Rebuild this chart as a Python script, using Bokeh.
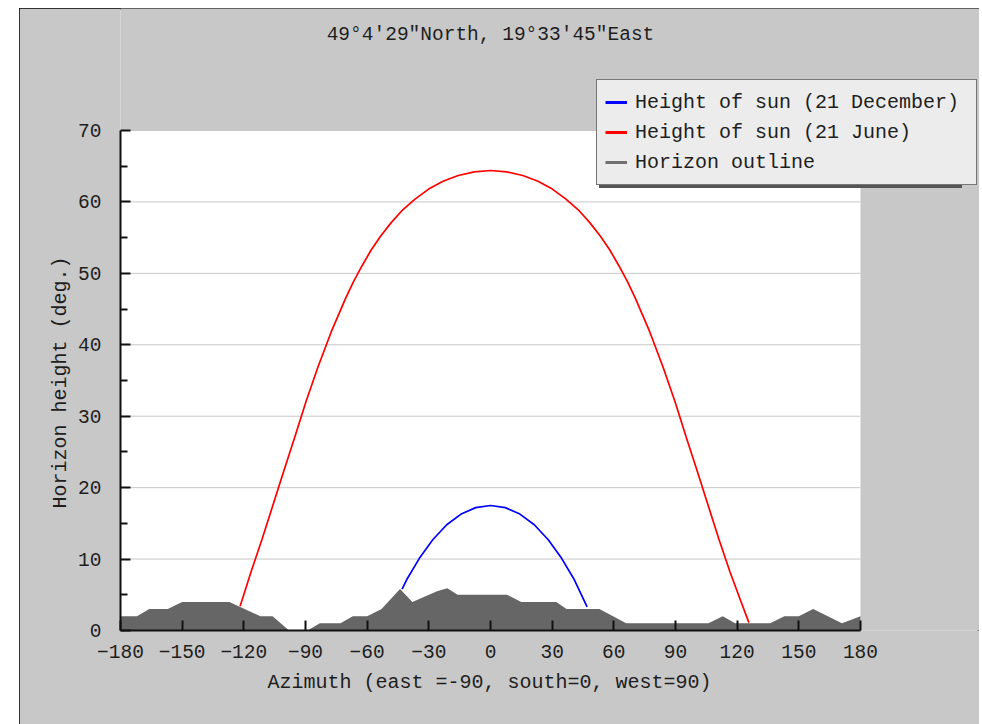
from bokeh.plotting import figure
from bokeh.models import Legend, LegendItem, Label, FixedTicker, Range1d, Spacer, Title
from bokeh.layouts import row, column
from bokeh.embed import file_html
from bokeh.resources import INLINE

# ---------------- data ----------------
title_text = '49°4′29"North, 19°33′45"East'
x_label = "Azimuth (east =-90, south=0, west=90)"
y_label = "Horizon height (deg.)"

legend_labels = ["Height of sun (21 December)", "Height of sun (21 June)", "Horizon outline"]

horizon_az = [-180, -172, -166, -157, -150, -127, -112, -106, -98, -89, -83, -73, -67, -60,
              -53, -44, -38, -26, -21, -16, 8, 15, 32, 37, 53, 66, 106, 113, 119, 136, 143,
              150, 157, 171, 180]
horizon_h = [2, 2, 3, 3, 4, 4, 2, 2, 0, 0, 1, 1, 2, 2,
             3, 5.8, 4, 5.5, 5.9, 5, 5, 4, 4, 3, 3, 1, 1, 2, 1, 1, 2,
             2, 3, 1, 2]

dec_az = [-43, -40.8, -34.6, -28.1, -21.3, -14.3, -7.2, 0, 7.2, 14.3, 21.3, 28.1, 34.6, 40.8, 47]
dec_h = [5.8, 7.1, 10.1, 12.7, 14.8, 16.3, 17.2, 17.5, 17.2, 16.3, 14.8, 12.7, 10.1, 7.1, 3.3]

jun_az = [-121.8, -116.4, -111.1, -105.9, -100.6, -95.2, -89.7, -83.8, -77.5, -70.5, -66.7,
          -62.6, -58.2, -53.5, -48.3, -42.7, -36.7, -30.1, -23.1, -15.7, -7.9, 0,
          7.9, 15.7, 23.1, 30.1, 36.7, 42.7, 48.3, 53.5, 58.2, 62.6, 66.7, 70.5, 77.5,
          83.8, 89.7, 95.2, 100.6, 105.9, 111.1, 116.4, 121.8, 125.7]
jun_h = [3.4, 8.3, 12.8, 17.5, 22.3, 27.1, 32.1, 37.0, 41.8, 46.5, 48.8,
         51.0, 53.2, 55.2, 57.1, 58.9, 60.4, 61.8, 62.9, 63.7, 64.2, 64.4,
         64.2, 63.7, 62.9, 61.8, 60.4, 58.9, 57.1, 55.2, 53.2, 51.0, 48.8, 46.5, 41.8,
         37.0, 32.1, 27.1, 22.3, 17.5, 12.8, 8.3, 4.1, 1.1]

x_ticks = [-180, -150, -120, -90, -60, -30, 0, 30, 60, 90, 120, 150, 180]
y_ticks = [0, 10, 20, 30, 40, 50, 60, 70]
y_minor = [5, 15, 25, 35, 45, 55, 65]

# ---------------- styling ----------------
FONT = "Liberation Mono"
TXT = "#1e1e1e"
PANEL = "#c8c8c8"
NAN = float("nan")

# The frame covers the grey panel to the right of / above the white plot area so the
# legend and the title (drawn inside the frame) are not clipped.
p = figure(width=960, height=716, x_range=Range1d(-180, 237.9), y_range=Range1d(0, 87.08),
           output_backend="svg", toolbar_location=None, title=None,
           min_border_left=101, min_border_right=0, min_border_top=0, min_border_bottom=94)
p.background_fill_color = PANEL
p.border_fill_color = PANEL
p.outline_line_color = None
p.styles = {"outline": "2px solid black", "outline-offset": "-2px"}

# white plotting area
p.quad(left=x_ticks[0], right=x_ticks[-1], bottom=y_ticks[0], top=y_ticks[-1],
       fill_color="white", line_color=None)
# horizontal grid lines
p.segment(x0=[x_ticks[0]] * len(y_ticks), y0=y_ticks, x1=[x_ticks[-1]] * len(y_ticks), y1=y_ticks,
          line_color="#c8c8c8", line_width=1)

# axes
p.xaxis.ticker = FixedTicker(ticks=x_ticks)
p.yaxis.ticker = FixedTicker(ticks=y_ticks, minor_ticks=y_minor)
p.xaxis.bounds = (x_ticks[0], x_ticks[-1])
p.yaxis.bounds = (y_ticks[0], y_ticks[-1])
for ax in (p.xaxis, p.yaxis):
    ax.axis_line_color = "#111111"
    ax.axis_line_width = 2
    ax.major_tick_line_color = "#111111"
    ax.major_tick_line_width = 2
    ax.major_tick_in = 10
    ax.major_tick_out = 0
    ax.minor_tick_out = 0
    ax.major_label_text_font = FONT
    ax.major_label_text_font_size = "19.5px"
    ax.major_label_text_color = TXT
p.xaxis.minor_tick_in = 0
p.yaxis.minor_tick_in = 7
p.yaxis.minor_tick_line_color = "#111111"
p.yaxis.minor_tick_line_width = 2
p.xaxis.major_label_standoff = 14
p.yaxis.major_label_standoff = 19

p.xgrid.visible = False
p.ygrid.visible = False

# axis titles, aligned to the white plot area rather than the whole frame
p.add_layout(Title(text=x_label, align="left", offset=147, standoff=16, text_font=FONT,
                   text_font_size="20px", text_font_style="normal", text_color=TXT), "below")
p.add_layout(Title(text=y_label, align="left", offset=122, standoff=8, text_font=FONT,
                   text_font_size="20px", text_font_style="normal", text_color=TXT), "left")

# data renderers
p.line(jun_az, jun_h, line_color="#ff0000", line_width=1.7)
p.line(dec_az, dec_h, line_color="#0000ff", line_width=1.7)
p.varea(x=horizon_az, y1=[0] * len(horizon_az), y2=horizon_h, fill_color="#666666")

# legend-only renderers (thicker line keys, nothing drawn in the plot)
leg_dec = p.line([NAN], [NAN], line_color="#0000ff", line_width=3)
leg_jun = p.line([NAN], [NAN], line_color="#ff0000", line_width=3)
leg_hor = p.line([NAN], [NAN], line_color="#707070", line_width=3)
leg_r = [leg_dec, leg_jun, leg_hor]

common = dict(label_text_font=FONT, label_text_font_size="20px", label_text_color=TXT,
              glyph_width=22, glyph_height=28, label_height=28, label_width=333,
              label_standoff=8, padding=8, spacing=2, margin=0)

# drop shadow of the legend box (blank labels, same size)
shadow = Legend(items=[LegendItem(label="\u00a0" * len(l), renderers=[r])
                       for l, r in zip(legend_labels, leg_r)],
                location=(479, 442), background_fill_color="#555555", background_fill_alpha=1,
                border_line_color=None, label_text_alpha=0, **common)
main = Legend(items=[LegendItem(label=l, renderers=[r]) for l, r in zip(legend_labels, leg_r)],
              location=(476, 445), background_fill_color="#ececec", background_fill_alpha=1,
              border_line_color="#000000", border_line_width=1, **common)
p.add_layout(shadow)
p.add_layout(main)

# chart title as a label centred above the plot area
p.add_layout(Label(x=0, y=83.4, text=title_text, text_align="center", text_baseline="middle",
                   text_font=FONT, text_font_size="19.5px", text_color=TXT))

layout = column(Spacer(width=979, height=8), row(Spacer(width=19, height=716), p))
open("out.html", "w").write(file_html(layout, INLINE))
